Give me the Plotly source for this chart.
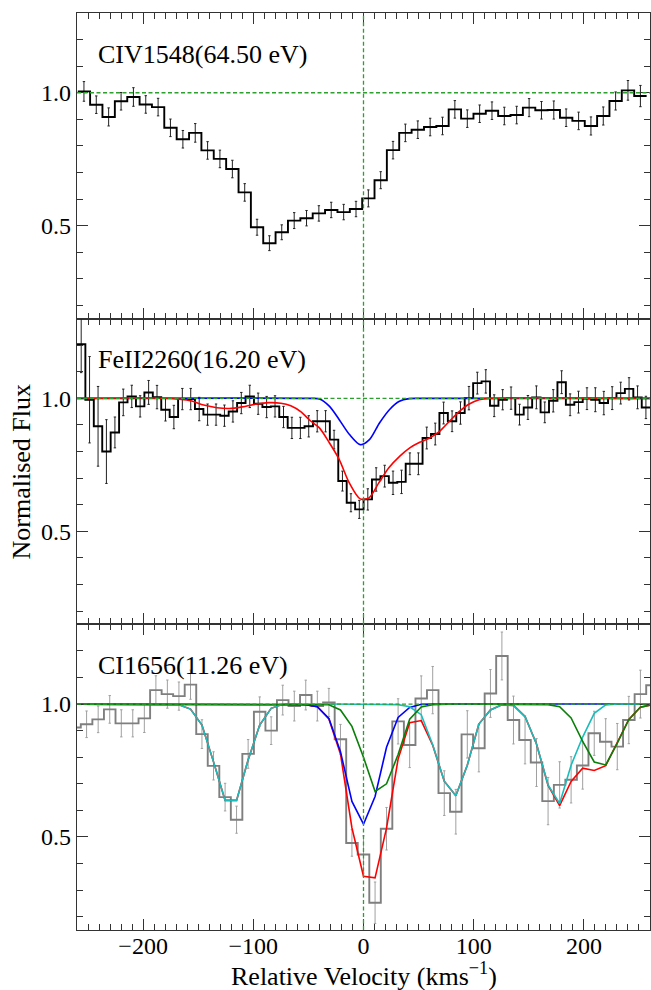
import plotly.graph_objects as go
from plotly.subplots import make_subplots

# ---------------- CIV 1548 ----------------
civ_vel = [-253.7, -242.5, -231.3, -220.0, -208.8, -197.6, -186.4, -175.2, -163.9, -152.7,
           -141.5, -130.3, -119.0, -107.8, -96.6, -85.4, -74.2, -62.9, -51.7, -40.5,
           -29.3, -18.0, -6.8, 4.4, 15.6, 26.8, 38.0, 49.3, 60.5, 71.7,
           82.9, 94.2, 105.4, 116.6, 127.8, 139.0, 150.3, 161.5, 172.7, 183.9,
           195.2, 206.4, 217.6, 228.8, 240.0, 251.3]
civ_flux = [1.005, 0.955, 0.909, 0.968, 0.984, 0.956, 0.946, 0.868, 0.825, 0.849,
            0.783, 0.751, 0.713, 0.625, 0.494, 0.434, 0.475, 0.519, 0.528, 0.546,
            0.559, 0.551, 0.5625, 0.6025, 0.671, 0.784, 0.849, 0.861, 0.871, 0.875,
            0.9375, 0.9025, 0.921, 0.9325, 0.9125, 0.916, 0.944, 0.934, 0.935, 0.906,
            0.894, 0.875, 0.9125, 0.969, 1.009, 0.9875]
civ_err = [0.037, 0.033, 0.034, 0.033, 0.035, 0.033, 0.033, 0.033, 0.033, 0.035,
           0.033, 0.033, 0.033, 0.033, 0.030, 0.028, 0.028, 0.030, 0.029, 0.029,
           0.029, 0.029, 0.029, 0.032, 0.032, 0.033, 0.033, 0.033, 0.033, 0.033,
           0.033, 0.033, 0.033, 0.033, 0.033, 0.033, 0.034, 0.033, 0.034, 0.033,
           0.033, 0.034, 0.034, 0.034, 0.037, 0.040]

# ---------------- FeII 2260 ----------------
feii_vel = [-256.2, -248.6, -240.9, -233.3, -225.6, -218.0, -210.3, -202.7, -195.0, -187.4,
            -179.7, -172.1, -164.4, -156.8, -149.1, -141.5, -133.8, -126.2, -118.5, -110.9,
            -103.2, -95.6, -87.9, -80.3, -72.6, -65.0, -57.3, -49.7, -42.0, -34.4,
            -26.7, -19.1, -11.4, -3.8, 3.9, 11.5, 19.2, 26.8, 34.5, 42.1,
            49.8, 57.4, 65.1, 72.7, 80.4, 88.0, 95.7, 103.3, 111.0, 118.6,
            126.3, 133.9, 141.6, 149.2, 156.9, 164.5, 172.2, 179.8, 187.5, 195.1,
            202.8, 210.4, 218.1, 225.7, 233.4, 241.0, 248.7, 256.3]
feii_flux = [1.204, 0.995, 0.895, 0.800, 0.872, 0.985, 1.0075, 0.970, 1.0225, 1.005,
             0.9575, 0.930, 0.9975, 0.9975, 0.960, 0.939, 0.939, 0.935, 0.951, 0.9825,
             1.0075, 0.980, 0.9675, 0.970, 0.930, 0.889, 0.889, 0.895, 0.914, 0.914,
             0.845, 0.689, 0.6075, 0.5825, 0.620, 0.695, 0.7075, 0.6825, 0.686, 0.754,
             0.754, 0.851, 0.866, 0.945, 0.914, 0.945, 1.001, 1.0575, 1.064, 0.9725,
             0.995, 1.001, 0.939, 0.966, 1.004, 0.9475, 0.991, 1.061, 0.976, 0.986,
             0.999, 0.995, 0.9825, 1.001, 1.020, 1.036, 1.004, 0.966]
feii_err = [0.107, 0.1625, 0.15, 0.12, 0.058, 0.05, 0.042, 0.04, 0.045, 0.044,
            0.0425, 0.044, 0.04, 0.04, 0.044, 0.04, 0.04, 0.04, 0.04, 0.04,
            0.042, 0.04, 0.04, 0.04, 0.04, 0.04, 0.04, 0.04, 0.04, 0.04,
            0.035, 0.0375, 0.034, 0.034, 0.04, 0.044, 0.041, 0.044, 0.044, 0.041,
            0.041, 0.041, 0.041, 0.041, 0.039, 0.042, 0.044, 0.041, 0.044, 0.041,
            0.038, 0.042, 0.039, 0.045, 0.043, 0.039, 0.042, 0.043, 0.041, 0.041,
            0.041, 0.045, 0.044, 0.043, 0.041, 0.042, 0.043, 0.042]

feii_blue_v = [-260, -50, -39.8, -30.8, -21.7, -12.7, -3.0, 5.4, 14.5, 23.5, 32.6, 41.6, 50, 260]
feii_blue_f = [1.0, 1.0, 0.998, 0.97, 0.918, 0.864, 0.826, 0.845, 0.9075, 0.9575, 0.989, 0.999, 1.0, 1.0]

feii_red_v = [-260, -175, -157, -145, -133, -122, -110, -97, -86, -75, -66, -57, -48, -40,
              -31, -22, -13, -3, 5, 14, 23, 33, 42, 51, 60, 69, 78, 87, 96, 105, 114, 260]
feii_red_f = [1.0, 1.0, 0.991, 0.975, 0.965, 0.962, 0.968, 0.979, 0.984, 0.982, 0.972, 0.95, 0.915, 0.889,
              0.833, 0.77, 0.683, 0.622, 0.626, 0.683, 0.739, 0.783, 0.814, 0.835, 0.851, 0.876, 0.914,
              0.951, 0.979, 0.995, 1.0, 1.0]

# ---------------- CI 1656 ----------------
ci_vel = [-261.8, -251.3, -240.8, -230.3, -219.8, -209.4, -198.9, -188.4, -178.0, -167.5,
          -157.0, -146.6, -136.1, -125.6, -115.2, -104.7, -94.2, -83.8, -73.3, -62.8,
          -52.4, -41.9, -31.4, -20.9, -10.5, 0.0, 10.5, 20.9, 31.4, 41.9,
          52.4, 62.8, 73.3, 83.8, 94.2, 104.7, 115.2, 125.6, 136.1, 146.6,
          157.0, 167.5, 178.0, 188.4, 198.9, 209.4, 219.8, 230.3, 240.8, 251.3,
          261.8]
ci_flux = [0.912, 0.924, 0.9425, 0.98, 0.9275, 0.9275, 0.946, 1.0525, 1.0375, 1.03,
           1.073, 0.887, 0.7675, 0.65, 0.565, 0.8125, 0.971, 0.90, 1.015, 0.9925,
           1.034, 0.9925, 1.006, 0.8675, 0.4775, 0.434, 0.2525, 0.531, 0.935, 0.846,
           1.021, 1.0525, 0.665, 0.595, 0.886, 0.834, 1.04, 1.181, 0.94, 0.865,
           0.78, 0.635, 0.696, 0.715, 0.769, 0.89, 0.858, 0.84, 0.94, 1.0375,
           1.071]
ci_err = [0.05, 0.05, 0.05, 0.052, 0.051, 0.051, 0.053, 0.054, 0.053, 0.053,
          0.055, 0.054, 0.053, 0.052, 0.051, 0.054, 0.056, 0.052, 0.056, 0.056,
          0.056, 0.056, 0.053, 0.056, 0.05, 0.07, 0.078, 0.08, 0.085, 0.085,
          0.085, 0.089, 0.084, 0.084, 0.089, 0.089, 0.09, 0.09, 0.09, 0.09,
          0.09, 0.089, 0.087, 0.087, 0.089, 0.083, 0.087, 0.087, 0.089, 0.09,
          0.09]

ci_red = [1.0, 1.0, 1.0, 1.0, 1.0, 1.0, 1.0, 1.0, 1.0, 0.9975,
          0.981, 0.921, 0.7825, 0.6375, 0.6375, 0.79, 0.921, 0.984, 0.999, 1.0,
          0.9975, 0.99, 0.944, 0.8125, 0.534, 0.3525, 0.346, 0.533, 0.793, 0.93,
          0.938, 0.845, 0.71, 0.655, 0.77, 0.925, 0.978, 0.997, 0.995, 0.953,
          0.85, 0.694, 0.618, 0.709, 0.759, 0.75, 0.768, 0.853, 0.942, 0.988,
          0.9975]
ci_blue = [1.0, 1.0, 1.0, 1.0, 1.0, 1.0, 1.0, 1.0, 1.0, 1.0,
           1.0, 1.0, 1.0, 1.0, 1.0, 1.0, 1.0, 1.0, 1.0, 1.0,
           0.9975, 0.99, 0.946, 0.821, 0.634, 0.548, 0.6525, 0.8375, 0.95, 0.9875,
           0.999, 1.0, 1.0, 1.0, 1.0, 1.0, 1.0, 1.0, 1.0, 1.0,
           1.0, 1.0, 1.0, 1.0, 1.0, 1.0, 1.0, 1.0, 1.0, 1.0,
           1.0]
ci_cyan = [1.0, 1.0, 1.0, 1.0, 1.0, 1.0, 1.0, 1.0, 1.0, 0.9975,
           0.981, 0.921, 0.7825, 0.6375, 0.6375, 0.79, 0.921, 0.984, 0.999, 1.0,
           1.0, 1.0, 1.0, 1.0, 1.0, 1.0, 1.0, 1.0, 0.998, 0.99,
           0.96, 0.847, 0.71, 0.655, 0.77, 0.925, 0.978, 0.997, 0.995, 0.953,
           0.85, 0.696, 0.626, 0.77, 0.876, 0.965, 0.997, 1.0, 1.0, 1.0,
           1.0]
ci_green = [1.0, 1.0, 1.0, 1.0, 1.0, 1.0, 1.0, 1.0, 1.0, 1.0,
            1.0, 1.0, 1.0, 1.0, 1.0, 1.0, 1.0, 1.0, 1.0, 1.0,
            1.0, 1.0, 0.9975, 0.978, 0.916, 0.80, 0.671, 0.70, 0.81, 0.943,
            0.989, 0.9975, 1.0, 1.0, 1.0, 1.0, 1.0, 1.0, 1.0, 1.0,
            1.0, 0.998, 0.99, 0.948, 0.86, 0.782, 0.771, 0.853, 0.942, 0.988,
            0.9975]

panel_labels = ["CIV1548(64.50 eV)", "FeII2260(16.20 eV)", "CI1656(11.26 eV)"]

FONT = "Liberation Serif, Times New Roman, serif"
AX = "#333333"
DASH_GREEN = "#2ca02c"


def steps(centers, values):
    mids = [(a + b) / 2 for a, b in zip(centers[:-1], centers[1:])]
    left = centers[0] - (centers[1] - centers[0]) / 2
    right = centers[-1] + (centers[-1] - centers[-2]) / 2
    return [left] + mids + [right], list(values) + [values[-1]]


fig = make_subplots(rows=3, cols=1, shared_xaxes=True, vertical_spacing=0)


def add_hist(row, vel, flux, err, color, ecolor):
    xs, ys = steps(vel, flux)
    fig.add_trace(go.Scatter(x=vel, y=flux, mode="markers",
                             marker=dict(size=1, color="rgba(0,0,0,0)"),
                             error_y=dict(type="data", array=err, visible=True,
                                          color=ecolor, thickness=1, width=1.2),
                             showlegend=False, hoverinfo="skip"), row=row, col=1)
    fig.add_trace(go.Scatter(x=xs, y=ys, mode="lines", line=dict(color=color, width=1.9, shape="hv"),
                             showlegend=False), row=row, col=1)


add_hist(1, civ_vel, civ_flux, civ_err, "black", "#222222")
add_hist(2, feii_vel, feii_flux, feii_err, "black", "#222222")
fig.add_trace(go.Scatter(x=feii_blue_v, y=feii_blue_f, mode="lines",
                         line=dict(color="#0000ff", width=1.6, shape="spline", smoothing=0.8),
                         showlegend=False), row=2, col=1)
fig.add_trace(go.Scatter(x=feii_red_v, y=feii_red_f, mode="lines",
                         line=dict(color="#ff0000", width=1.6, shape="spline", smoothing=0.8),
                         showlegend=False), row=2, col=1)

add_hist(3, ci_vel, ci_flux, ci_err, "#7f7f7f", "#a0a0a0")
for series, col in [(ci_red, "#ff0000"), (ci_blue, "#0000ff"), (ci_cyan, "#1cbcbc"), (ci_green, "#0a7f0a")]:
    fig.add_trace(go.Scatter(x=ci_vel, y=series, mode="lines", line=dict(color=col, width=1.6),
                             showlegend=False), row=3, col=1)

shapes = []
annotations = []
for i in range(3):
    xr = "x" if i == 0 else f"x{i+1}"
    yr = "y" if i == 0 else f"y{i+1}"
    shapes.append(dict(type="line", xref=xr, yref=f"{yr} domain", x0=0, x1=0, y0=0, y1=1,
                       line=dict(color=DASH_GREEN, width=1.3, dash="4px,2.5px"), layer="above"))
    shapes.append(dict(type="line", xref=f"{xr} domain", yref=yr, x0=0, x1=1, y0=1, y1=1,
                       line=dict(color=DASH_GREEN, width=1.3, dash="4px,2.5px"), layer="above"))
    annotations.append(dict(text=panel_labels[i], xref=xr, yref=yr, x=-243, y=1.145,
                            xanchor="left", yanchor="middle", showarrow=False,
                            font=dict(family=FONT, size=26, color="black")))

annotations.append(dict(text="Normalised Flux", xref="paper", yref="paper", x=0, y=0.5,
                        xshift=-56, textangle=-90, showarrow=False, xanchor="center", yanchor="middle",
                        font=dict(family=FONT, size=26, color="black")))
annotations.append(dict(text="Relative Velocity (kms<sup>\u22121</sup>)", xref="paper", yref="paper",
                        x=0.5, y=0, yshift=-44, showarrow=False, xanchor="center", yanchor="middle",
                        font=dict(family=FONT, size=26, color="black")))

xcommon = dict(range=[-260, 260], tick0=0, dtick=100, ticks="inside", ticklen=11, tickwidth=1.2,
               tickcolor=AX, showline=True, linecolor=AX, linewidth=1.2, mirror="ticks",
               showgrid=False, zeroline=False,
               minor=dict(ticks="inside", dtick=10, ticklen=6, tickwidth=1, tickcolor=AX, showgrid=False),
               tickfont=dict(family=FONT, size=24, color="black"))
ycommon = dict(range=[0.15, 1.3], tick0=0, dtick=0.5, tickformat=".1f", ticks="inside", ticklen=11,
               tickwidth=1.2, tickcolor=AX, showline=True, linecolor=AX, linewidth=1.2, mirror="ticks",
               showgrid=False, zeroline=False,
               minor=dict(ticks="inside", dtick=0.1, ticklen=6, tickwidth=1, tickcolor=AX, showgrid=False),
               tickfont=dict(family=FONT, size=24, color="black"))

for i in range(1, 4):
    fig.update_xaxes(**xcommon, row=i, col=1)
    fig.update_yaxes(**ycommon, row=i, col=1)
fig.update_xaxes(showticklabels=True, ticklabelstandoff=-6, row=3, col=1)

fig.update_layout(width=651, height=990, margin=dict(l=77, r=1, t=13, b=60),
                  paper_bgcolor="white", plot_bgcolor="white",
                  shapes=shapes, annotations=annotations, showlegend=False)

fig.write_html("out.html", config={"responsive": False, "displayModeBar": False},
               post_script="document.documentElement.style.margin='0';"
                           "document.body.style.margin='0';"
                           "document.body.style.overflow='hidden';")
